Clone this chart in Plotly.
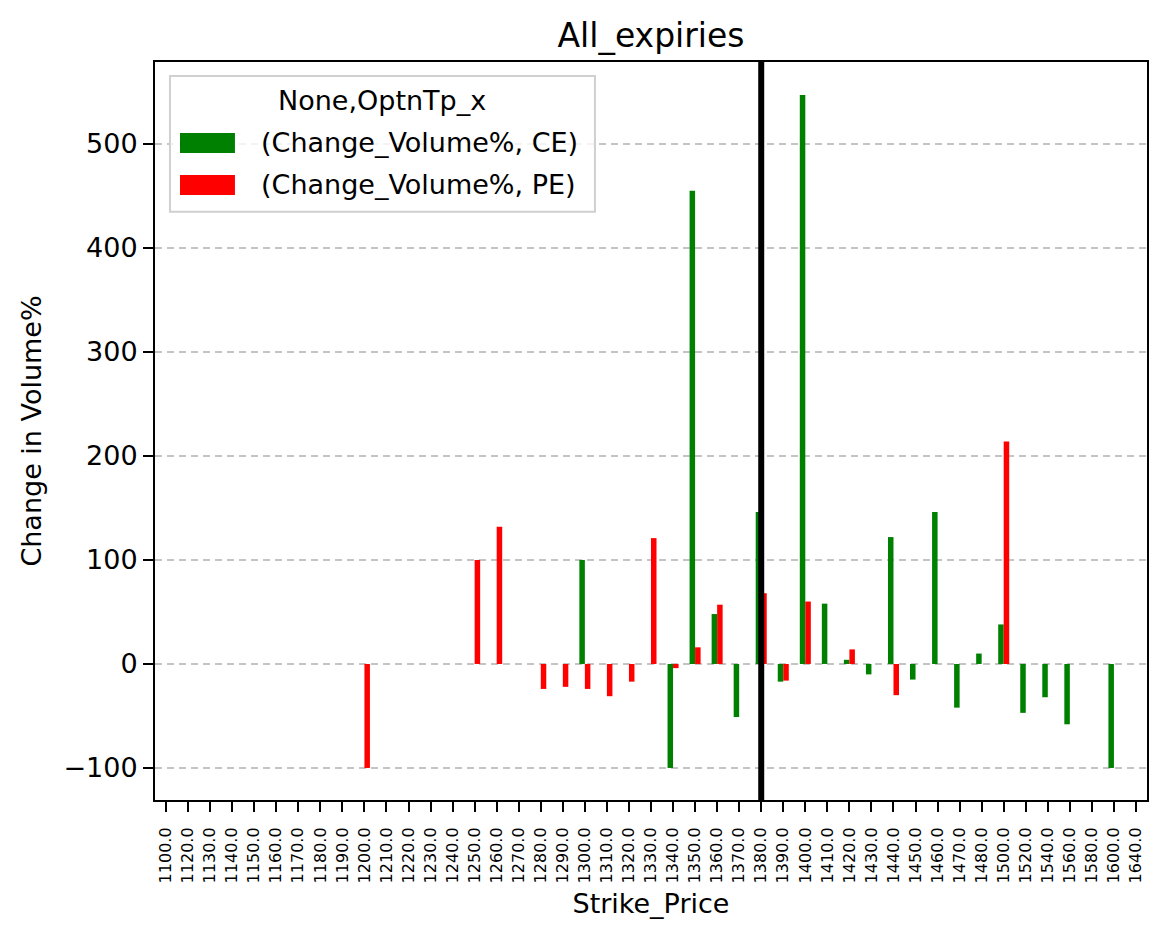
import plotly.graph_objects as go

strikes = ["1100.0","1120.0","1130.0","1140.0","1150.0","1160.0","1170.0","1180.0","1190.0",
           "1200.0","1210.0","1220.0","1230.0","1240.0","1250.0","1260.0","1270.0","1280.0",
           "1290.0","1300.0","1310.0","1320.0","1330.0","1340.0","1350.0","1360.0","1370.0",
           "1380.0","1390.0","1400.0","1410.0","1420.0","1430.0","1440.0","1450.0","1460.0",
           "1470.0","1480.0","1500.0","1520.0","1540.0","1560.0","1580.0","1600.0","1640.0"]

ce_values = [None,None,None,None,None,None,None,None,None,
             None,None,None,None,None,None,None,None,None,
             None,100,None,None,None,-100,455,48,-51,
             146,-17,547,58,4,-10,122,-15,146,
             -42,10,38,-47,-32,-58,None,-100,None]

pe_values = [None,None,None,None,None,None,None,None,None,
             -100,None,None,None,None,100,132,None,-24,
             -22,-24,-31,-17,121,-4,16,57,None,
             68,-16,60,None,14,None,-30,None,None,
             None,None,214,None,None,None,None,None,None]

series_names = ["(Change_Volume%, CE)", "(Change_Volume%, PE)"]
series_colors = ["#008000", "#ff0000"]
legend_title = "None,OptnTp_x"
spot_strike = "1380.0"

fig = go.Figure()
for name, vals, col in zip(series_names, [ce_values, pe_values], series_colors):
    fig.add_trace(go.Bar(x=strikes, y=vals, name=name, showlegend=False,
                         marker=dict(color=col, line=dict(width=0))))

spot_idx = strikes.index(spot_strike)
fig.add_shape(type="line", xref="x", yref="paper", x0=spot_idx, x1=spot_idx,
              y0=0, y1=1, line=dict(color="black", width=6), layer="above")

# custom matplotlib-style legend (paper coordinates)
fig.add_shape(type="rect", xref="paper", yref="paper", x0=0.0151, x1=0.4435,
              y0=0.797, y1=0.981, line=dict(color="#d0d0d0", width=2),
              fillcolor="rgba(255,255,255,0.8)", layer="above")
fig.add_annotation(xref="paper", yref="paper", x=0.2288, y=0.9485, text=legend_title,
                   showarrow=False, xanchor="center", yanchor="middle",
                   font=dict(size=27))
sw_y = [(0.9038, 0.8767), (0.8469, 0.8198)]
for (y1, y0), name, col in zip(sw_y, series_names, series_colors):
    fig.add_shape(type="rect", xref="paper", yref="paper", x0=0.0252, x1=0.0806,
                  y0=y0, y1=y1, line=dict(width=0), fillcolor=col, layer="above")
    fig.add_annotation(xref="paper", yref="paper", x=0.1048, y=(y0 + y1) / 2, text=name,
                       showarrow=False, xanchor="left", yanchor="middle",
                       font=dict(size=27))

font = "DejaVu Sans, sans-serif"
fig.update_layout(
    width=1166, height=939,
    margin=dict(l=155, r=19, t=62, b=139),
    paper_bgcolor="white", plot_bgcolor="white",
    barmode="group", bargap=0.5, bargroupgap=0,
    font=dict(family=font, color="black", size=27),
    title=dict(text="All_expiries", x=(155 + 1147) / 2 / 1166, xanchor="center",
               y=1 - 35 / 939, yanchor="middle",
               font=dict(size=33, family=font, color="black")),
    xaxis=dict(type="category", categoryorder="array", categoryarray=strikes,
               range=[-0.5, len(strikes) - 0.5],
               showline=True, linecolor="black", linewidth=2, mirror=True,
               ticks="outside", ticklen=10, tickcolor="black", tickwidth=2,
               tickangle=-90, tickfont=dict(size=16, family=font),
               ticklabelstandoff=9,
               showgrid=False, zeroline=False,
               title=dict(text="Strike_Price", font=dict(size=27), standoff=12)),
    yaxis=dict(range=[-130.8, 578.8],
               tickvals=[-100, 0, 100, 200, 300, 400, 500],
               showline=True, linecolor="black", linewidth=2, mirror=True,
               ticks="outside", ticklen=10, tickcolor="black", tickwidth=2,
               tickfont=dict(size=27, family=font),
               showgrid=True, gridcolor="#c4c4c4", griddash="7px,5px", gridwidth=1.6,
               zeroline=False,
               title=dict(text="Change in Volume%", font=dict(size=27), standoff=14)),
)

fig.write_html("out.html")
